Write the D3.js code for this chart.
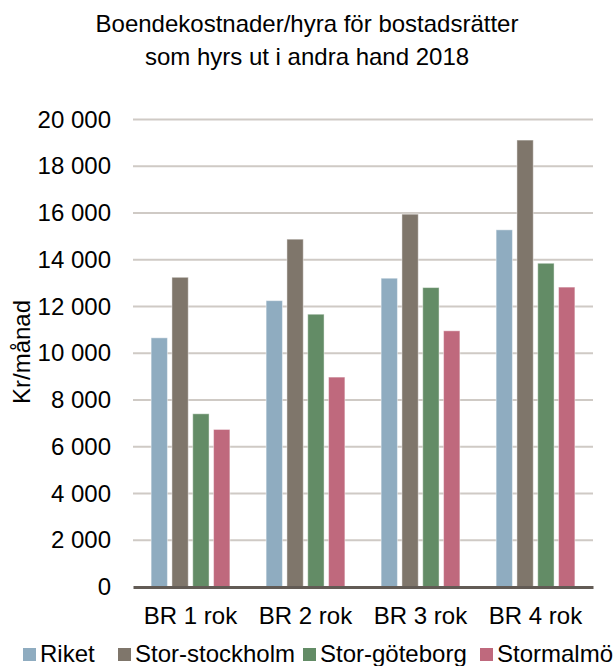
<!DOCTYPE html>
<html>
<head>
<meta charset="utf-8">
<script src="https://cdn.jsdelivr.net/npm/d3@7"></script>
<style>
  body { margin: 0; background: #fff; }
  svg { font-family: "Liberation Sans", Arial, sans-serif; }
</style>
</head>
<body>
<svg id="chart" width="614" height="666"></svg>
<script>
// data
const categories = ["BR 1 rok", "BR 2 rok", "BR 3 rok", "BR 4 rok"];
const seriesNames = ["Riket", "Stor-stockholm", "Stor-göteborg", "Stormalmö"];
const riket = [10660, 12250, 13210, 15280];
const storStockholm = [13250, 14880, 15950, 19120];
const storGoteborg = [7410, 11670, 12810, 13850];
const stormalmo = [6740, 8980, 10960, 12830];
const yTicks = [0, 2000, 4000, 6000, 8000, 10000, 12000, 14000, 16000, 18000, 20000];
const titleLines = ["Boendekostnader/hyra för bostadsrätter", "som hyrs ut i andra hand 2018"];
const yTitle = "Kr/månad";

const colors = ["#8facc0", "#7f766b", "#638c66", "#bf697d"];
const seriesValues = [riket, storStockholm, storGoteborg, stormalmo];

const margin = { top: 119.5, right: 21, bottom: 79, left: 133 };
const width = 614, height = 666;
const fontSize = '24px';

const svg = d3.select('#chart');

const sv = d3.formatLocale({ decimal: ",", thousands: " ", grouping: [3], currency: ["", " kr"] });

// scales
const x0 = d3.scaleBand().domain(categories).range([margin.left, width - margin.right]).padding(0);
const x1 = d3.scaleBand().domain(seriesNames).range([0, x0.bandwidth()])
    .paddingInner(0.216).paddingOuter(0.87);
const y = d3.scaleLinear().domain([0, 20000]).range([height - margin.bottom, margin.top]);

// title
svg.append('text')
    .attr('x', 307)
    .attr('y', 32)
    .attr('text-anchor', 'middle')
    .style('font-size', fontSize)
    .selectAll('tspan')
    .data(titleLines)
    .enter()
    .append('tspan')
    .attr('x', 307)
    .attr('dy', (d, i) => i === 0 ? 0 : 33)
    .text(d => d);

// gridlines
svg.append('g')
    .attr('class', 'grid')
    .selectAll('line')
    .data(yTicks.filter(d => d > 0))
    .enter()
    .append('line')
    .attr('x1', margin.left)
    .attr('x2', width - margin.right)
    .attr('y1', d => y(d))
    .attr('y2', d => y(d))
    .style('stroke', '#cfcac5')
    .style('stroke-width', 2);

// y axis labels
const yAxis = svg.append('g')
    .attr('class', 'axis axis-y')
    .attr('transform', `translate(${margin.left}, 0)`)
    .call(d3.axisLeft(y).tickValues(yTicks).tickFormat(sv.format(",")).tickSize(0).tickPadding(22));
yAxis.select('.domain').remove();
yAxis.selectAll('text')
    .style('font-size', fontSize)
    .style('fill', '#000')
    .style('font-family', '"Liberation Sans", Arial, sans-serif');

// y title
svg.append('text')
    .attr('transform', 'translate(30, 352) rotate(-90)')
    .attr('text-anchor', 'middle')
    .style('font-size', fontSize)
    .text(yTitle);

// bars
const groups = svg.append('g')
    .attr('class', 'bars')
    .selectAll('g')
    .data(categories)
    .enter()
    .append('g')
    .attr('transform', d => `translate(${x0(d)}, 0)`);

groups.selectAll('rect')
    .data((c, ci) => seriesNames.map((s, si) => ({ s: s, i: si, v: seriesValues[si][ci] })))
    .enter()
    .append('rect')
    .attr('x', d => x1(d.s))
    .attr('y', d => y(d.v))
    .attr('width', x1.bandwidth())
    .attr('height', d => y(0) - y(d.v))
    .style('fill', d => colors[d.i])
    .style('stroke', 'rgba(255,255,255,0.45)')
    .style('stroke-width', 1);

// baseline + category labels
const xAxis = svg.append('g')
    .attr('class', 'axis axis-x')
    .attr('transform', `translate(0, ${y(0)})`)
    .call(d3.axisBottom(x0).tickSize(0).tickPadding(20));
xAxis.select('.domain')
    .style('stroke', '#625b55')
    .style('stroke-width', 3);
xAxis.selectAll('text')
    .style('font-size', fontSize)
    .style('fill', '#000')
    .style('font-family', '"Liberation Sans", Arial, sans-serif');

// legend
const legendX = [23, 118, 303, 480];
const legend = svg.append('g')
    .attr('class', 'legend')
    .selectAll('g')
    .data(seriesNames)
    .enter()
    .append('g')
    .attr('transform', (d, i) => `translate(${legendX[i]}, 648)`);
legend.append('rect')
    .attr('width', 13)
    .attr('height', 13)
    .attr('y', 0)
    .style('fill', (d, i) => colors[i]);
legend.append('text')
    .attr('x', 17)
    .attr('y', 14)
    .style('font-size', fontSize)
    .text(d => d);
</script>
</body>
</html>
